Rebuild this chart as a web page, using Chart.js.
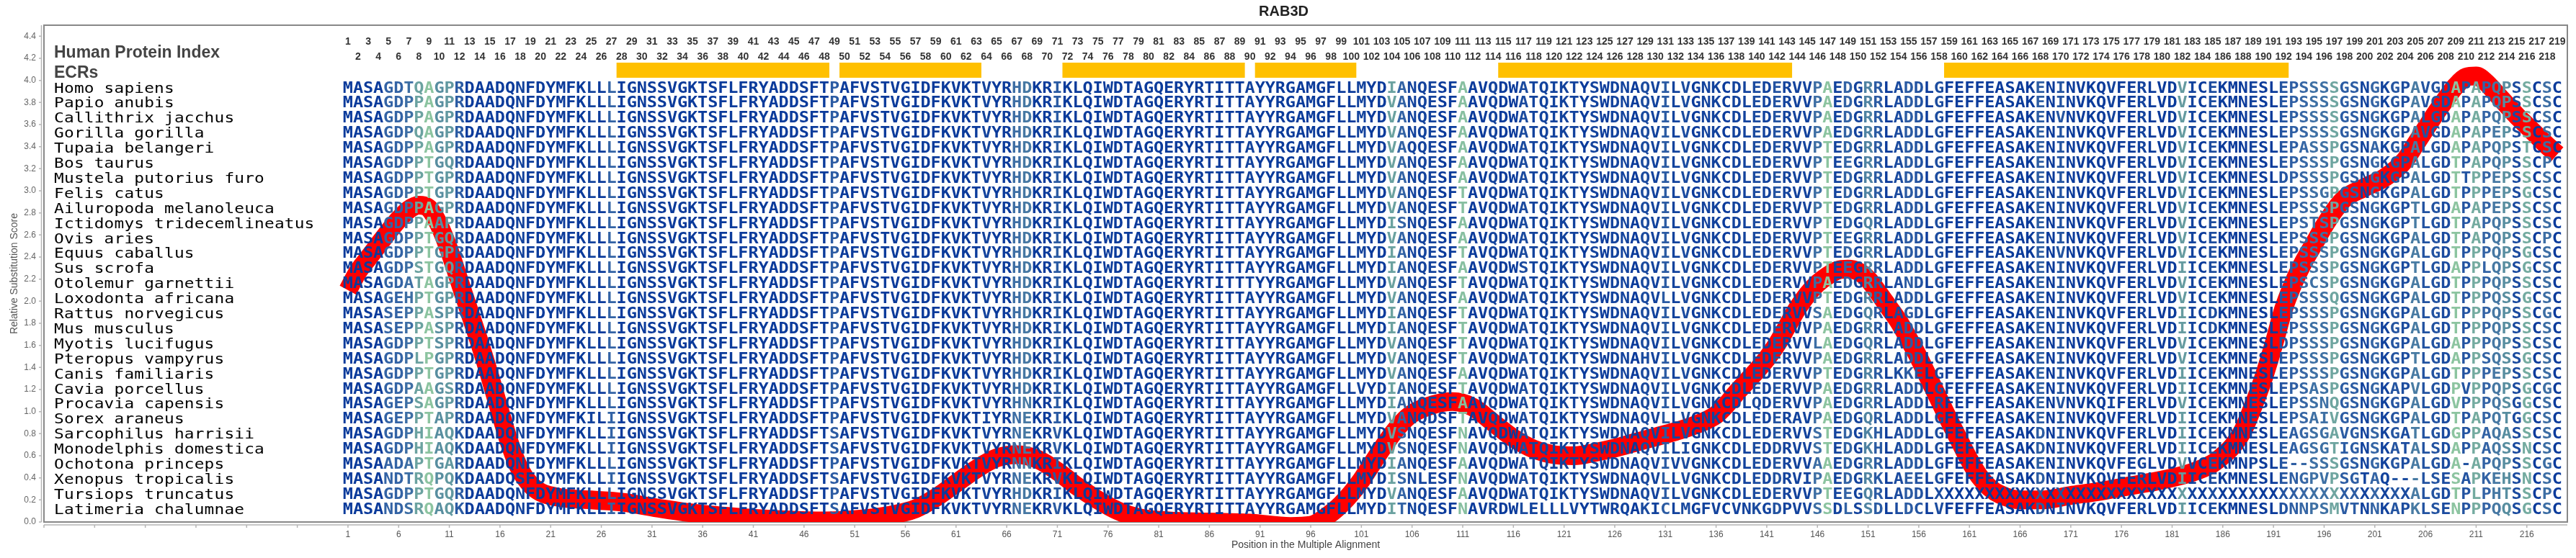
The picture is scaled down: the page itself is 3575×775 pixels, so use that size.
<!DOCTYPE html>
<html>
<head>
<meta charset="utf-8">
<title>RAB3D</title>
<script src="https://cdn.jsdelivr.net/npm/chart.js@4.4.1/dist/chart.umd.min.js"></script>
<style>
  html, body { margin: 0; padding: 0; background: #fff; }
</style>
</head>
<body>
<canvas id="chart" width="3575" height="775"></canvas>
<script>
// species, top row to bottom row
const species = [
  'Homo sapiens', 'Papio anubis', 'Callithrix jacchus', 'Gorilla gorilla', 'Tupaia belangeri',
  'Bos taurus', 'Mustela putorius furo', 'Felis catus', 'Ailuropoda melanoleuca',
  'Ictidomys tridecemlineatus', 'Ovis aries', 'Equus caballus', 'Sus scrofa', 'Otolemur garnettii',
  'Loxodonta africana', 'Rattus norvegicus', 'Mus musculus', 'Myotis lucifugus', 'Pteropus vampyrus',
  'Canis familiaris', 'Cavia porcellus', 'Procavia capensis', 'Sorex araneus', 'Sarcophilus harrisii',
  'Monodelphis domestica', 'Ochotona princeps', 'Xenopus tropicalis', 'Tursiops truncatus',
  'Latimeria chalumnae'
];

// shared stretches of the alignment
const A12 = 'RDAADQNFDYMFKLLLIGNSSVGKTSFLFRYADDSFTPAFVSTVG';   // 12-56
const B12 = 'KDAADQNFDYMFKLLIIGNSSVGKTSFLFRYADDSFTSAFVSTVG';   // 12-56, marsupials / fish
const A57 = 'IDFKVKTVYR';                                      // 57-66
const A72 = 'KLQIWDTAGQERYRTITT';                              // 72-89
const A90 = 'AYYRGAMGFLLMYD';                                  // 90-103
const A113 = 'VQDWATQIKTYSWDNAQVILVGNKCDLEDERVV';              // 113-145
const A158 = 'GFEFFEASAKE';                                    // 158-168

// aligned sequences, positions 1-219
const sequences = [
  'MASAGDTQAGP' + A12 + A57 + 'HDKRI' + A72 + A90 + 'IANQESFAA' + A113 + 'PAEDGRRLADDL' + A158 + 'NINVKQVFERLVDVICEKMNESLEPSSSSGSNGKGPAVGDAPAPQPSSCSC',
  'MASAGDPPAGP' + A12 + A57 + 'HDKRI' + A72 + A90 + 'VANQESFAA' + A113 + 'PAEDGRRLADDL' + A158 + 'NINVKQVFERLVDVICEKMNESLEPSSSSGSNGKGPAVGDAPAPQPSSCSC',
  'MASAGDPPAGP' + A12 + A57 + 'HDKRI' + A72 + A90 + 'VANQESFAA' + A113 + 'PAEDGRRLADDL' + A158 + 'NVNVKQVFERLVDVICEKMNESLEPSSSSGSNGKGPALGDAPAPQPSSCSC',
  'MASAGDPQAGP' + A12 + A57 + 'HDKRI' + A72 + A90 + 'VANQESFAA' + A113 + 'PAEDGRRLADDL' + A158 + 'NINVKQVFERLVDVICEKMNESLEPSSSSGSNGKGPAVGDAPAPEPSSCSC',
  'MASAGDPPAGP' + A12 + A57 + 'HDKRI' + A72 + A90 + 'VAQQESFAA' + A113 + 'PTEDGRRLADDL' + A158 + 'NINVKQVFERLVDVICEKMNESLEPASSPGSNAKGPALGDAPAPQPSTCSC',
  'MASAGDPPTGQ' + A12 + A57 + 'HDKRI' + A72 + A90 + 'VANQESFAA' + A113 + 'PTEEGRRLADDL' + A158 + 'NINVKQVFERLVDVICEKMNESLEPSSSPGSNGKGPALGDTPAPQPSSCPC',
  'MASAGDPPTGP' + A12 + A57 + 'HDKRI' + A72 + A90 + 'VANQESFAA' + A113 + 'PTEDGRRLADDL' + A158 + 'NINVKQVFERLVDVICEKMNESLDPSSSPGSNGKGPALGDTTPPEPSSCSC',
  'MASAGDPPTGP' + A12 + A57 + 'HDKRI' + A72 + A90 + 'VANQESFTA' + A113 + 'PTEDGRRLADDL' + A158 + 'NINVKQVFERLVDVICEKMNESLEPSSGPGSNGKGPALGDTPPPEPSGCSC',
  'MASAGDPPAGP' + A12 + A57 + 'HDKRI' + A72 + A90 + 'VANQESFTA' + A113 + 'PTEDGRRLADDL' + A158 + 'NINVKQVFERLVDVICEKMNESLEPSSSPGSNGKGPTLGDAPAPEPSSCSC',
  'MASAGDPPAAP' + A12 + A57 + 'HDKRI' + A72 + A90 + 'ISNQESFAA' + A113 + 'PTEDGQRLADDL' + A158 + 'NINVKQVFERLVDVICEKMNESLEPSTSPGSNGKGPTLGDTPAPQPSSCSC',
  'MASAGDPPTGQ' + A12 + A57 + 'HDKRI' + A72 + A90 + 'VANQESFAA' + A113 + 'PTEEGRRLADDL' + A158 + 'NINVKQVFERLVDVICEKMNESLEPSSSPGSNGKGPALGDTPAPQPSSCPC',
  'MASAGDPPTGP' + A12 + A57 + 'HDKRI' + A72 + A90 + 'IANQESFTA' + A113 + 'PTEDGRRLADDL' + A158 + 'NVNVKQVFERLVDVICEKMNESLEPSSSPGSNGKGPALGDTPPPQPSGCSC',
  'MASAGDPSTGQ' + A12 + A57 + 'HDKRI' + A72 + A90 + 'IANQESFAA' + 'VQDWSTQIKTYSWDNAQVILVGNKCDLEDERVV' + 'PTEEGRRLADDL' + A158 + 'NINVKQVFERLVDIICEKMNESLEPSSSPGSNGKGPTLGDAPPLQPSGCSC',
  'MASAGDATAGP' + A12 + A57 + 'HDKRI' + A72 + 'TYYRGAMGFLLMYD' + 'VANQESFTA' + A113 + 'PAEDGRRLANDL' + A158 + 'NINVKQVFERLVDVICEKMNESLEPSCSPGSNGKGPALGDTPPPQPSSCSC',
  'MASAGEHPTGP' + A12 + A57 + 'HDKRI' + A72 + A90 + 'VANQESFAA' + 'VQDWATQIKTYSWDNAQVLLVGNKCDLEDERVV' + 'PTEDGRRLADDL' + A158 + 'NINVKQVFERLVDVICEKMNESLEPSSSQGSNGKGPALGDTPPPQSSGCSC',
  'MASASEPPASP' + A12 + A57 + 'HDKRI' + A72 + A90 + 'IANQESFTA' + A113 + 'SAEDGQRLAGDL' + A158 + 'NINVKQVFERLVDIICDKMNESLEPSSSPGSNGKGPALGDTPPPQPSSCGC',
  'MASASEPPASP' + A12 + A57 + 'HDKRI' + A72 + A90 + 'IANQESFTA' + A113 + 'PAEDGRRLADDL' + A158 + 'NINVKQVFERLVDIICDKMNESLEPSSSPGSNGKGPALGDTPPPQPSSCSC',
  'MASAGDPPTSP' + A12 + A57 + 'HDKRI' + A72 + A90 + 'VANQESFTA' + A113 + 'LAEDGQRLADDL' + A158 + 'NINVKQVFERLVDVICEKMNESLDPSSSPGSNGKGPALGDAPPPQPSSCSC',
  'MASAGDPLPGP' + A12 + A57 + 'HDKRI' + A72 + A90 + 'VANQESFTA' + 'VQDWATQIKTYSWDNAHVILVGNKCDLEDERVV' + 'PAEDGRRLADDL' + A158 + 'NINVKQVFERLVDVICEKMNESLEPSSSPGSNGKGPTLGDAPPSQSSGCSC',
  'MASAGDPPTGP' + A12 + A57 + 'HDKRI' + A72 + A90 + 'VANQESFAA' + A113 + 'PTEDGRRLKKEL' + A158 + 'NINVKQVFERLVDIICEKMNESLEPSSSPGSNGKGPALGDTPPPEPSSCSC',
  'MASAGDPAAGS' + A12 + A57 + 'HDKRI' + A72 + 'AYYRGAMGFLLVYD' + 'IANQESFTA' + A113 + 'PAEDGRRLADDL' + A158 + 'NINVKQVFERLVDIICEKMNESLEPSASPGSNGKAPVLGDPVPPQPSGCGC',
  'MASAGEPSAGP' + A12 + A57 + 'HNKRI' + A72 + A90 + 'IANQESFAA' + 'VQDWATQIKTYSWDNAQVILVGNKCDLQDERVV' + 'PAEDGRRLADDL' + 'RFEFFEASAKE' + 'NVNVKQIFERLVDVICEKMNESLEPSSNQGSNGKGPALGDVPPPQSGGCSC',
  'MASAGEPPTAP' + 'RDAADQNFDYMFKILIIGNSSVGKTSFLFRYADDSFTPAFVSTVG' + 'IDFKVKTIYR' + 'NEKRI' + A72 + A90 + 'VANQDSFTA' + 'VQDWATQIKTYSWDNAQVLLVGNKCDLEDERAV' + 'PAEDGQRLADDL' + A158 + 'NINVKQVFERLVDIICEKMNESLEPSAIVGSNGKGPALGDTPAPQTGGCSC',
  'MASAGDPHIAQ' + B12 + A57 + 'NEKRV' + A72 + A90 + 'VSNQESFNA' + A113 + 'STEDGKHLADDL' + 'GFEFFEASAKD' + 'NINVKQVFERLVDIICEKMNESLEAGSGAVGNSKGATLGDGPPAQASSCSC',
  'MASAGDPHIAQ' + B12 + A57 + 'NEKRV' + A72 + A90 + 'VSNQESFNA' + 'VQDWATQIKTYSWDNAQVILIGNKCDLEDDRVV' + 'STEDGKHLADDL' + 'GFEFFEASAKD' + 'NINVKQVFERLVDIICEKMNESLEAGSGTIGNSKATALSDAPPAQSSNCSC',
  'MASAADAPTGA' + A12 + A57 + 'NNKRI' + A72 + A90 + 'IANQESFAA' + 'VQDWATQIKTYSWDNAQVIVVGNKCDLEDERVV' + 'AAEDGRRLADDL' + A158 + 'NINVKQVFEGLVDVVCEKMNPSLE--SSSGSNGKGPALGDA-APQPSSCGC',
  'MASANDTRQPQ' + 'KDAADQSFDYMFKLLIIGNSSVGKTSFLFRYADDSFTSAFVSTVG' + A57 + 'NEKRV' + A72 + A90 + 'ISNLESFNA' + 'VQDWATQIKTYSWDNAQVLLVGNKCDLEDDRVI' + 'PAEDGRKLAEEL' + 'GFEFFEASAKD' + 'NINVKQVFERLVDIICEKMNESLENGPVPSGTAQ---LSESAPKEHSNCSC',
  'MASAGDPPTGQ' + A12 + A57 + 'HDKRI' + A72 + A90 + 'VANQESFAA' + A113 + 'PTEEGQRLADDL' + 'XXXXXXXXXXX' + 'XXXXXXXXXXXXXXXXXXXXXXXXXXXXXXXXXXXXALGDTPLPHTSSCPC',
  'MASANDSRQAQ' + B12 + A57 + 'NEKRV' + A72 + A90 + 'ITNQESFNA' + 'VRDWLELLLVYTWRQAKICLMGFVCVNKGDPVVSSDLSSDLLDCLVFEFFEASAKD' + 'NINVKQVFERLVDIICEKMNESLDNNPSMVTNNKAPKLSENPPPQQSGCSC'
];

// evolutionarily conserved regions (human positions)
const ecrStart = [28, 50, 72, 91, 115, 159];
const ecrEnd   = [48, 63, 89, 100, 143, 192];

// relative substitution score
const scorePos = [
  1, 2, 3, 4, 5, 6, 7, 8, 9, 10, 11, 12, 13, 14, 15, 16, 17, 18, 19, 20,
  22, 25, 28, 32, 36, 40, 44, 48, 52, 55, 57, 59, 61, 63, 65, 67, 69, 71, 73, 75,
  77, 79, 82, 86, 90, 94, 96, 98, 99, 100, 101, 102, 103, 104, 105, 106, 108, 110, 112, 114,
  116, 118, 120, 122, 124, 126, 128, 130, 132, 134, 136, 137, 138, 139, 140, 141, 142, 143, 144, 145,
  146, 147, 148, 149, 150, 151, 152, 153, 154, 155, 156, 157, 158, 159, 160, 161, 162, 163, 164, 166,
  168, 171, 174, 177, 180, 183, 185, 186, 187, 188, 189, 190, 191, 192, 193, 194, 195, 196, 197, 198,
  200, 202, 204, 205, 206, 207, 208, 209, 210, 211, 212, 213, 214, 215, 216, 217, 218, 219
];
const scoreVal = [
  2.10, 2.27, 2.39, 2.51, 2.63, 2.74, 2.83, 2.87, 2.84, 2.69, 2.46, 2.18, 1.90, 1.62, 1.32, 1.00, 0.70, 0.47, 0.34, 0.27,
  0.22, 0.20, 0.18, 0.12, 0.07, 0.04, 0.02, 0.01, 0.03, 0.07, 0.12, 0.22, 0.35, 0.48, 0.58, 0.61, 0.57, 0.46, 0.32, 0.20,
  0.10, 0.04, 0.01, 0.00, -0.01, -0.04, -0.03, 0.08, 0.16, 0.26, 0.38, 0.52, 0.66, 0.79, 0.90, 0.98, 1.06, 1.09, 1.04, 0.90,
  0.76, 0.66, 0.61, 0.60, 0.63, 0.67, 0.72, 0.77, 0.82, 0.88, 0.97, 1.06, 1.17, 1.27, 1.37, 1.48, 1.61, 1.77, 1.93, 2.06,
  2.16, 2.23, 2.28, 2.29, 2.27, 2.20, 2.08, 1.95, 1.82, 1.66, 1.49, 1.30, 1.11, 0.92, 0.74, 0.56, 0.41, 0.31, 0.25, 0.20,
  0.20, 0.24, 0.28, 0.33, 0.38, 0.45, 0.53, 0.60, 0.69, 0.83, 1.05, 1.30, 1.60, 1.93, 2.17, 2.36, 2.52, 2.68, 2.82, 2.93,
  3.03, 3.12, 3.28, 3.42, 3.56, 3.70, 3.83, 3.95, 4.03, 4.04, 3.98, 3.88, 3.78, 3.68, 3.59, 3.50, 3.41, 3.33
];

const yTicks = [0, 0.2, 0.4, 0.6, 0.8, 1.0, 1.2, 1.4, 1.6, 1.8, 2.0, 2.2, 2.4, 2.6, 2.8, 3.0, 3.2, 3.4, 3.6, 3.8, 4.0, 4.2, 4.4];
const xTickFirst = -29, xTickLast = 216, xTickStep = 5;

// colour of each alignment column: dark blue when conserved, teal/green when variable
const nCols = sequences[0].length;
const shadeStops = [[0, [11, 59, 155]], [0.35, [52, 100, 165]], [0.65, [92, 146, 160]], [1, [140, 196, 160]]];
function shade(f) {
  const t = Math.min(1, f / 0.5);
  for (let i = 1; i < shadeStops.length; i++) {
    if (t <= shadeStops[i][0]) {
      const [t0, c0] = shadeStops[i - 1], [t1, c1] = shadeStops[i];
      const k = (t - t0) / (t1 - t0);
      const c = c0.map((v, j) => Math.round(v + (c1[j] - v) * k));
      return 'rgb(' + c.join(',') + ')';
    }
  }
  return 'rgb(140,196,160)';
}
const colColor = [];
for (let c = 0; c < nCols; c++) {
  const counts = {};
  let total = 0;
  sequences.forEach(s => {
    const ch = s[c];
    if (ch !== 'X' && ch !== '-') { counts[ch] = (counts[ch] || 0) + 1; total++; }
  });
  const top = Math.max(...Object.values(counts));
  colColor.push(shade(1 - top / total));
}

const ROW0 = 93.5, ROWSTEP = 20.9, NAME_PITCH = 13.9;
const MONO = '"DejaVu Sans Mono", "Liberation Mono", monospace';

// frame under everything, then alignment text, index numbers and ECR bars over the score line
const alignmentPlugin = {
  id: 'alignment',
  beforeDatasetsDraw(chart) {
    const { ctx, chartArea: a } = chart;
    ctx.save();
    ctx.strokeStyle = '#888';
    ctx.lineWidth = 2;
    ctx.strokeRect(a.left, a.top, a.right - a.left, a.bottom - a.top);
    ctx.restore();
  },
  afterDatasetsDraw(chart) {
    const { ctx, chartArea: a, scales: { x } } = chart;
    ctx.save();

    ctx.fillStyle = '#444';
    ctx.font = 'bold 23px "Liberation Sans", Arial, sans-serif';
    ctx.textAlign = 'left';
    ctx.textBaseline = 'alphabetic';
    ctx.fillText('Human Protein Index', a.left + 14, a.top + 45);
    ctx.fillText('ECRs', a.left + 14, a.top + 73);

    ctx.fillStyle = '#333';
    ctx.font = 'bold 14px "Liberation Sans", Arial, sans-serif';
    ctx.textAlign = 'center';
    ctx.textBaseline = 'middle';
    for (let p = 1; p <= nCols; p++) {
      ctx.fillText(String(p), x.getPixelForValue(p), p % 2 ? a.top + 23 : a.top + 44);
    }

    ctx.fillStyle = '#FFC000';
    ecrStart.forEach((s, i) => {
      const x0 = x.getPixelForValue(s - 0.5);
      const x1 = x.getPixelForValue(ecrEnd[i] + 0.5);
      ctx.fillRect(x0, a.top + 52, x1 - x0, 21);
    });

    // species names, fixed pitch
    ctx.textBaseline = 'alphabetic';
    ctx.textAlign = 'center';
    ctx.fillStyle = '#000';
    ctx.font = '19px ' + MONO;
    species.forEach((name, r) => {
      const yb = a.top + ROW0 + r * ROWSTEP;
      for (let i = 0; i < name.length; i++) {
        if (name[i] === ' ') continue;
        ctx.save();
        ctx.translate(a.left + 14 + (i + 0.5) * NAME_PITCH, yb);
        ctx.scale(1.2, 1);
        ctx.fillText(name[i], 0, 0);
        ctx.restore();
      }
    });

    // residues, one per alignment column
    ctx.font = 'bold 21px ' + MONO;
    sequences.forEach((seq, r) => {
      const yb = a.top + ROW0 + r * ROWSTEP;
      for (let c = 0; c < seq.length; c++) {
        ctx.fillStyle = colColor[c];
        ctx.save();
        ctx.translate(x.getPixelForValue(c + 1), yb);
        ctx.scale(1.12, 1);
        ctx.fillText(seq[c], 0, 0);
        ctx.restore();
      }
    });
    ctx.restore();
  },
  afterDraw(chart) {
    const { ctx, chartArea: a, scales: { x, y } } = chart;
    ctx.save();
    ctx.strokeStyle = '#b5b5b5';
    ctx.lineWidth = 1.5;
    ctx.beginPath();
    ctx.moveTo(a.left - 3.5, a.top);
    ctx.lineTo(a.left - 3.5, a.bottom);
    ctx.moveTo(a.left, a.bottom + 4);
    ctx.lineTo(a.right, a.bottom + 4);
    yTicks.forEach(v => {
      const py = y.getPixelForValue(v);
      ctx.moveTo(a.left - 7, py);
      ctx.lineTo(a.left - 3.5, py);
    });
    x.ticks.forEach(t => {
      const px = x.getPixelForValue(t.value);
      ctx.moveTo(px, a.bottom + 4);
      ctx.lineTo(px, a.bottom + 8);
    });
    ctx.stroke();
    ctx.restore();
  }
};

Chart.defaults.font.family = '"Liberation Sans", Arial, sans-serif';

new Chart(document.getElementById('chart').getContext('2d'), {
  type: 'line',
  data: {
    datasets: [{
      label: 'Relative Substitution Score',
      data: scorePos.map((p, i) => ({ x: p, y: scoreVal[i] })),
      borderColor: '#ff0000',
      borderWidth: 26,
      pointRadius: 0,
      fill: false,
      cubicInterpolationMode: 'monotone',
      clip: 0
    }]
  },
  options: {
    responsive: false,
    animation: false,
    layout: { padding: { left: 0, right: 12, top: 0, bottom: 0 } },
    plugins: {
      legend: { display: false },
      tooltip: { enabled: false },
      title: {
        display: true,
        text: 'RAB3D',
        color: '#222',
        font: { size: 20, weight: 'bold' },
        padding: { top: 4, bottom: 7 }
      }
    },
    scales: {
      x: {
        type: 'linear',
        min: -29,
        max: 220,
        grid: { display: false, drawTicks: true, tickLength: 7 },
        border: { display: false },
        afterBuildTicks: scale => {
          const ticks = [];
          for (let v = xTickFirst; v <= xTickLast; v += xTickStep) ticks.push({ value: v });
          scale.ticks = ticks;
        },
        afterFit: scale => { scale.height = 50; },
        ticks: {
          autoSkip: false,
          maxRotation: 0,
          padding: 3,
          color: '#555',
          font: { size: 12 },
          callback: v => (v >= 1 ? String(v) : '')
        },
        title: {
          display: true,
          text: 'Position in the Multiple Alignment',
          color: '#444',
          font: { size: 14 },
          padding: { top: 0, bottom: 9 }
        }
      },
      y: {
        min: 0,
        max: 4.5,
        grid: { display: false, drawTicks: true, tickLength: 8 },
        border: { display: false },
        afterBuildTicks: scale => { scale.ticks = yTicks.map(v => ({ value: v })); },
        afterFit: scale => { scale.width = 61; },
        ticks: {
          padding: 3,
          color: '#666',
          font: { size: 12 },
          callback: v => v.toFixed(1)
        },
        title: {
          display: true,
          text: 'Relative Substitution Score',
          color: '#555',
          font: { size: 14 },
          padding: { top: 12, bottom: 0 }
        }
      }
    }
  },
  plugins: [alignmentPlugin]
});
</script>
</body>
</html>
